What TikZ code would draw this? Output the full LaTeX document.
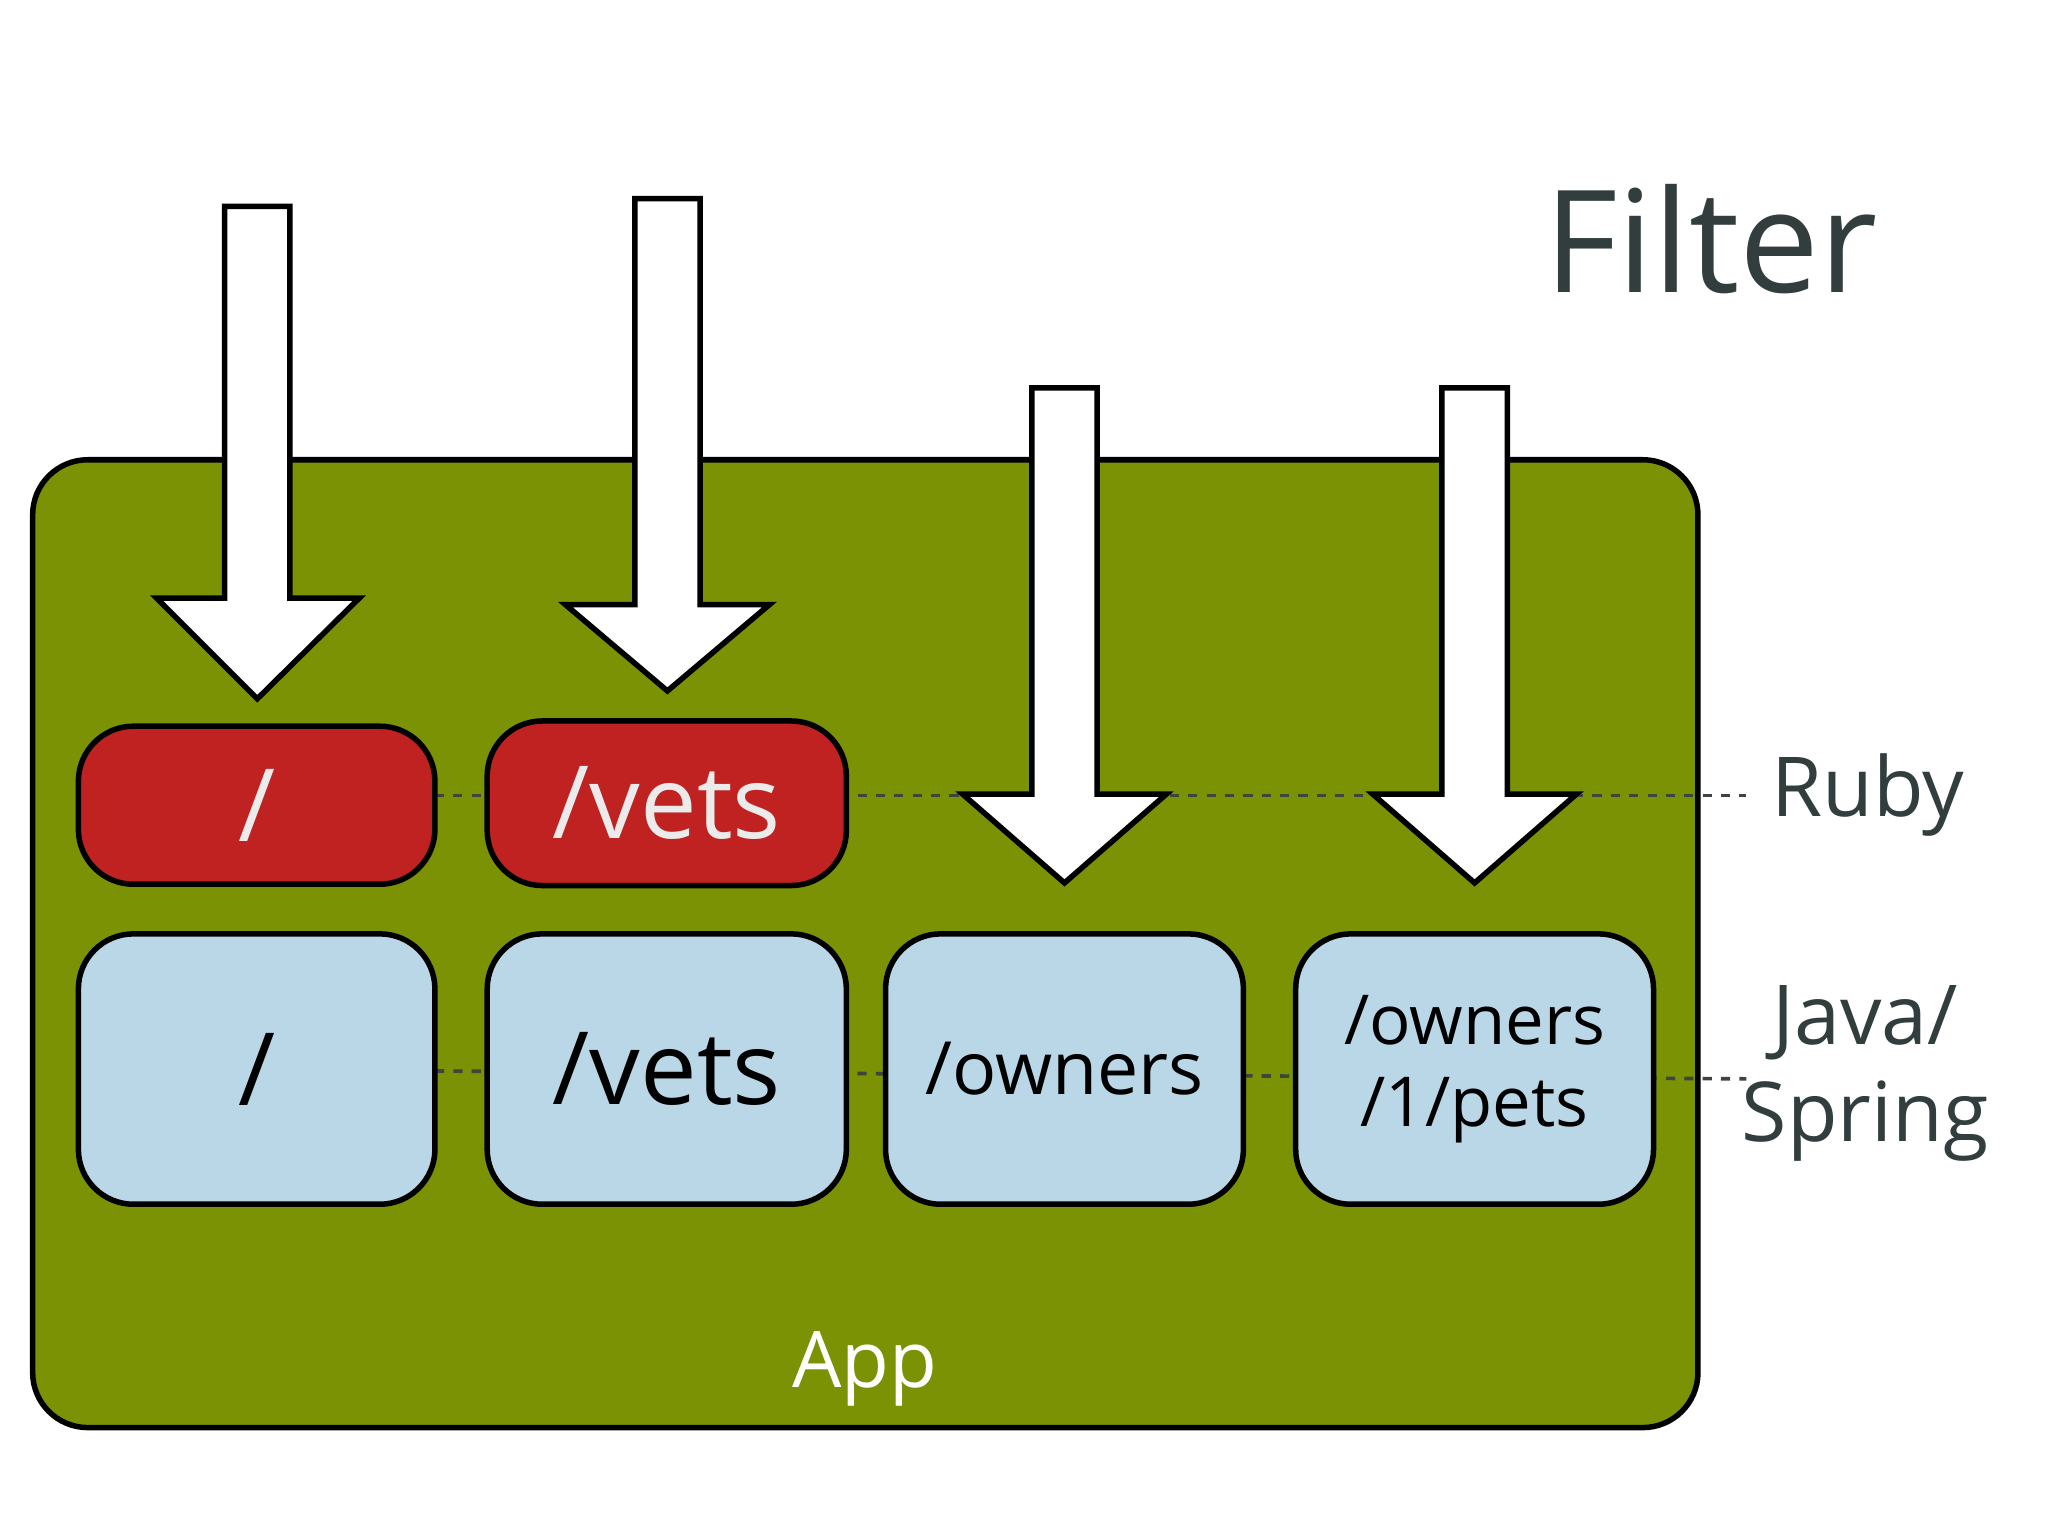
\documentclass[tikz,border=0pt]{standalone}
\usepackage{fontspec}
\setmainfont{Open Sans}
\begin{document}
\begin{tikzpicture}[x=0.01cm,y=-0.01cm,
  box/.style={draw=black,line width=1.2pt,rounded corners=12pt},
  redbox/.style={box,fill={rgb,255:red,192;green,34;blue,34}},
  bluebox/.style={box,fill={rgb,255:red,185;green,215;blue,230}},
  dots/.style={dash pattern=on 2pt off 2pt,draw={rgb,255:red,60;green,70;blue,60},line width=0.8pt},
  arr/.style={draw=black,fill=white,line width=1.2pt,line join=miter},
  lab/.style={text={rgb,255:red,50;green,62;blue,62}},
  rt/.style={text={rgb,255:red,235;green,235;blue,235}}]
\useasboundingbox (0,0) rectangle (1568,1176);
\draw[box,fill={rgb,255:red,122;green,146;blue,4}] (25,352) rectangle (1300,1093);
\draw[dots] (333,609) -- (1337,609);
\draw[dots] (333,820) -- (1337,826);
\draw[redbox] (60,556) rectangle (333,677);
\draw[redbox] (373,552) rectangle (648,678);
\node[rt,font=\fontsize{22}{26}\selectfont] (r1) at (196.5,616.5) {/};
\node[rt,font=\fontsize{22}{26}\selectfont] (r2) at (510.5,615) {/vets};
\draw[bluebox] (60,715) rectangle (333,922);
\draw[bluebox] (373,715) rectangle (648,922);
\draw[bluebox] (678,715) rectangle (952,922);
\draw[bluebox] (992,715) rectangle (1266,922);
\node[font=\fontsize{22}{26}\selectfont] (b1) at (196.5,818.5) {/};
\node[font=\fontsize{22}{26}\selectfont] (b2) at (510.5,818.5) {/vets};
\node[font=\fontsize{16}{19}\selectfont] (b3) at (815,818.5) {/owners};
\node[font=\fontsize{15}{18}\selectfont,align=center] (b4) at (1129,818.5) {/owners\\/1/pets};
\draw[arr] (172,158) -- (222,158) -- (222,458) -- (275,458) -- (197,535) -- (120,458) -- (172,458) -- cycle;
\draw[arr] (486,152) -- (536,152) -- (536,463) -- (589,463) -- (511,529) -- (433,463) -- (486,463) -- cycle;
\draw[arr] (790,297) -- (840,297) -- (840,608) -- (893,608) -- (815,676) -- (737,608) -- (790,608) -- cycle;
\draw[arr] (1104,297) -- (1154,297) -- (1154,608) -- (1207,608) -- (1129,676) -- (1051,608) -- (1104,608) -- cycle;
\node[lab,font=\fontsize{31}{36}\selectfont] (f) at (1310,183) {Filter};
\node[lab,font=\fontsize{18}{21}\selectfont] (ruby) at (1430,609) {Ruby};
\node[lab,font=\fontsize{18}{21}\selectfont,align=center] (java) at (1428,822) {Java/\\Spring};
\node[text=white,font=\fontsize{17}{20}\selectfont] (app) at (662,1048) {App};
\end{tikzpicture}
\end{document}
